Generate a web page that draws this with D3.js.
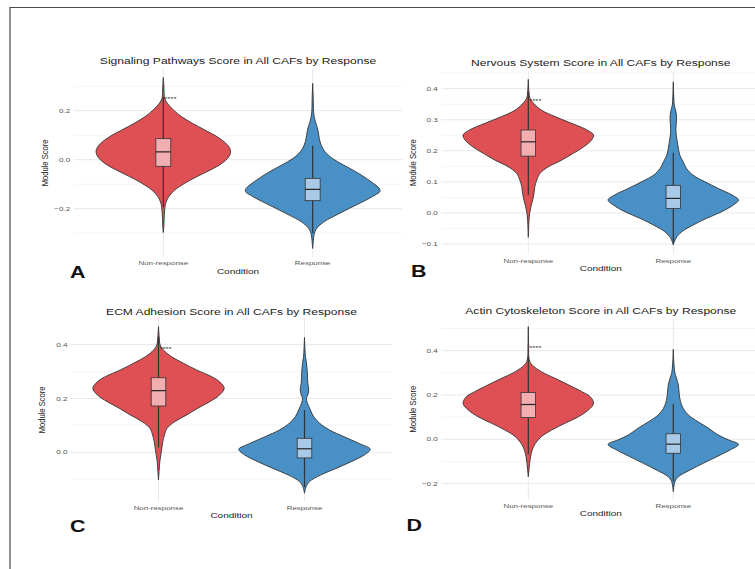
<!DOCTYPE html>
<html>
<head>
<meta charset="utf-8">
<script src="https://cdn.jsdelivr.net/npm/d3@7"></script>
<style>
  body { margin: 0; background: #fff; }
  svg { display: block; font-family: "Liberation Sans", Arial, Helvetica, sans-serif; }
</style>
</head>
<body>
<svg id="fig" width="755" height="569"></svg>
<script>
// ---- data ----
const conditions = ["Non-response", "Response"];
const panelTitles = [
  "Signaling Pathways Score in All CAFs by Response",
  "Nervous System Score in All CAFs by Response",
  "ECM Adhesion Score in All CAFs by Response",
  "Actin Cytoskeleton Score in All CAFs by Response"
];
const panelLetters = ["A", "B", "C", "D"];

// y-axis limits of each panel (score units)
const scoreLimits = [[-0.397, 0.371], [-0.133, 0.457], [-0.183, 0.498], [-0.273, 0.545]];
// major and minor breaks
const majorTicks = [
  [-0.2, 0.0, 0.2],
  [-0.1, 0.0, 0.1, 0.2, 0.3, 0.4],
  [0.0, 0.2, 0.4],
  [-0.2, 0.0, 0.2, 0.4]
];
const minorTicks = [
  [-0.3, -0.1, 0.1, 0.3],
  [-0.05, 0.05, 0.15, 0.25, 0.35, 0.45],
  [-0.1, 0.1, 0.3],
  [-0.1, 0.1, 0.3, 0.5]
];

// violin density profiles: [score, relative density]
const violinA_NR = [[0.336,0],[0.30,0.008],[0.27,0.012],[0.25,0.02],[0.23,0.06],[0.203,0.15],[0.176,0.27],[0.149,0.43],[0.121,0.62],[0.094,0.8],[0.067,0.93],[0.046,0.99],[0.030,1.0],[0.010,0.97],[-0.015,0.87],[-0.042,0.7],[-0.069,0.5],[-0.096,0.32],[-0.124,0.17],[-0.151,0.08],[-0.178,0.035],[-0.205,0.02],[-0.24,0.012],[-0.27,0.008],[-0.297,0]];
const violinA_R = [[0.312,0],[0.25,0.008],[0.19,0.015],[0.155,0.04],[0.13,0.07],[0.10,0.09],[0.073,0.11],[0.046,0.15],[0.019,0.23],[-0.008,0.37],[-0.035,0.55],[-0.062,0.72],[-0.090,0.87],[-0.117,0.99],[-0.13,1.0],[-0.144,0.93],[-0.171,0.75],[-0.198,0.55],[-0.226,0.35],[-0.253,0.17],[-0.280,0.06],[-0.307,0.02],[-0.33,0.01],[-0.362,0]];
const violinB_NR = [[0.43,0],[0.39,0.01],[0.369,0.025],[0.353,0.08],[0.331,0.2],[0.310,0.41],[0.288,0.67],[0.267,0.9],[0.251,1.0],[0.235,0.97],[0.213,0.85],[0.192,0.69],[0.170,0.51],[0.149,0.31],[0.128,0.18],[0.106,0.13],[0.085,0.10],[0.063,0.087],[0.042,0.067],[0.020,0.04],[-0.001,0.02],[-0.023,0.01],[-0.05,0.005],[-0.078,0]];
const violinB_R = [[0.422,0],[0.37,0.008],[0.347,0.015],[0.326,0.04],[0.304,0.05],[0.272,0.04],[0.251,0.045],[0.229,0.06],[0.208,0.077],[0.186,0.1],[0.165,0.15],[0.144,0.2],[0.122,0.3],[0.101,0.48],[0.079,0.69],[0.058,0.9],[0.042,1.0],[0.026,0.92],[0.004,0.74],[-0.017,0.51],[-0.039,0.3],[-0.060,0.13],[-0.081,0.04],[-0.103,0]];
const violinC_NR = [[0.467,0],[0.43,0.01],[0.399,0.025],[0.380,0.075],[0.355,0.2],[0.331,0.38],[0.306,0.58],[0.281,0.81],[0.262,0.93],[0.238,1.0],[0.213,0.93],[0.188,0.78],[0.164,0.6],[0.139,0.43],[0.114,0.25],[0.089,0.13],[0.064,0.09],[0.039,0.065],[0.015,0.05],[-0.010,0.035],[-0.035,0.02],[-0.066,0.01],[-0.103,0]];
const violinC_R = [[0.427,0],[0.38,0.008],[0.355,0.015],[0.331,0.03],[0.306,0.04],[0.281,0.045],[0.257,0.05],[0.232,0.065],[0.213,0.05],[0.201,0.03],[0.182,0.045],[0.157,0.09],[0.132,0.14],[0.108,0.23],[0.083,0.38],[0.058,0.6],[0.033,0.83],[0.011,1.0],[-0.010,0.91],[-0.035,0.71],[-0.060,0.48],[-0.084,0.25],[-0.109,0.075],[-0.128,0.025],[-0.152,0]];
const violinD_NR = [[0.508,0],[0.42,0.005],[0.358,0.015],[0.335,0.06],[0.305,0.2],[0.275,0.41],[0.245,0.62],[0.215,0.82],[0.192,0.95],[0.162,1.0],[0.132,0.92],[0.102,0.77],[0.072,0.56],[0.042,0.36],[0.012,0.2],[-0.018,0.11],[-0.048,0.06],[-0.078,0.035],[-0.108,0.02],[-0.138,0.01],[-0.169,0]];
const violinD_R = [[0.406,0],[0.34,0.01],[0.298,0.025],[0.275,0.05],[0.245,0.077],[0.207,0.09],[0.170,0.11],[0.140,0.15],[0.110,0.23],[0.079,0.38],[0.050,0.54],[0.019,0.69],[-0.003,0.85],[-0.023,1.0],[-0.048,0.87],[-0.078,0.67],[-0.108,0.46],[-0.138,0.26],[-0.169,0.077],[-0.191,0.025],[-0.236,0]];
const violins = [
  [violinA_NR, violinA_R],
  [violinB_NR, violinB_R],
  [violinC_NR, violinC_R],
  [violinD_NR, violinD_R]
];

// box summaries: [lower whisker, q1, median, q3, upper whisker]
const boxA = [[-0.195, -0.027, 0.032, 0.086, 0.255], [-0.30, -0.167, -0.121, -0.076, 0.057]];
const boxB = [[0.058, 0.183, 0.229, 0.267, 0.39], [-0.095, 0.015, 0.047, 0.089, 0.194]];
const boxC = [[0.018, 0.172, 0.229, 0.277, 0.43], [-0.13, -0.021, 0.013, 0.052, 0.157]];
const boxD = [[-0.068, 0.098, 0.157, 0.211, 0.375], [-0.19, -0.063, -0.022, 0.025, 0.159]];
const boxes = [boxA, boxB, boxC, boxD];

// significance label and its height (score units)
const sigLabel = "****";
const sigScore = [0.254, 0.365, 0.391, 0.421];

// ---- layout ----
const panels = [
  { left: 73.7, right: 402.3, top: 68.8, bottom: 257.0, titleY: 64, letterX: 70, letterY: 277.5 },
  { left: 441.3, right: 760.3, top: 70.9, bottom: 254.4, titleY: 66, letterX: 411, letterY: 276.8 },
  { left: 70.9, right: 392.1, top: 318.3, bottom: 501.5, titleY: 314.5, letterX: 70, letterY: 532.4 },
  { left: 441.3, right: 760.3, top: 318.5, bottom: 499.8, titleY: 314, letterX: 406.5, letterY: 530.8 }
];
const fills = ["#DE5053", "#4890C6"];
const boxFills = ["#F2AEB1", "#A9CAE6"];
const outline = "#333333";
const stretch = 1.3;   // horizontal text widening

const svg = d3.select("#fig");
svg.append("rect").attr("width", 755).attr("height", 569).attr("fill", "#fff");

// figure frame (top and left edges)
svg.append("path")
  .attr("d", "M10,569 V7.5 H755")
  .attr("fill", "none").attr("stroke", "#4a4a4a").attr("stroke-width", 1.2);

function place(sel, x, y, rot) {
  return sel.attr("transform", `translate(${x},${y}) scale(${stretch},1)` + (rot ? ` rotate(${rot})` : ""));
}

const fmt = d3.format(".1f");

panels.forEach((p, i) => {
  const g = svg.append("g");
  const x = d3.scalePoint().domain(conditions).range([p.left, p.right]).padding(0.6);
  const y = d3.scaleLinear().domain(scoreLimits[i]).range([p.bottom, p.top]);
  const step = x.step();
  const cx = (p.left + p.right) / 2;

  // grid
  g.selectAll(".minor").data(minorTicks[i]).join("line")
    .attr("x1", p.left).attr("x2", p.right)
    .attr("y1", d => y(d)).attr("y2", d => y(d))
    .attr("stroke", "#f2f2f2").attr("stroke-width", 0.7);
  g.selectAll(".major").data(majorTicks[i]).join("line")
    .attr("x1", p.left).attr("x2", p.right)
    .attr("y1", d => y(d)).attr("y2", d => y(d))
    .attr("stroke", "#e8e8e8").attr("stroke-width", 1);
  g.selectAll(".vgrid").data(conditions).join("line")
    .attr("x1", d => x(d)).attr("x2", d => x(d))
    .attr("y1", p.top).attr("y2", p.bottom)
    .attr("stroke", "#e8e8e8").attr("stroke-width", 1);

  // y tick labels
  majorTicks[i].forEach(t => {
    place(g.append("text"), p.left - 3.5, y(t) + 2.2)
      .attr("text-anchor", "end").attr("font-size", 6.2).attr("fill", "#555")
      .text(fmt(t));
  });
  // x tick labels
  conditions.forEach(c => {
    place(g.append("text"), x(c), p.bottom + 8.2)
      .attr("text-anchor", "middle").attr("font-size", 6.1).attr("fill", "#555")
      .text(c);
  });

  // violins
  const hw = d3.scaleLinear().domain([0, 1]).range([0, 0.45 * step]);
  conditions.forEach((c, k) => {
    const xc = x(c);
    const area = d3.area()
      .curve(d3.curveCatmullRom.alpha(0.5))
      .y(d => y(d[0]))
      .x0(d => xc - hw(d[1]))
      .x1(d => xc + hw(d[1]));
    g.append("path").datum(violins[i][k])
      .attr("d", area)
      .attr("fill", fills[k]).attr("stroke", outline).attr("stroke-width", 0.9)
      .attr("stroke-linejoin", "round");
  });

  // box plots
  const bw = 0.1 * step;
  conditions.forEach((c, k) => {
    const [lo, q1, med, q3, hi] = boxes[i][k];
    const xc = x(c);
    g.append("line").attr("x1", xc).attr("x2", xc).attr("y1", y(lo)).attr("y2", y(hi))
      .attr("stroke", outline).attr("stroke-width", 1.2);
    g.append("rect")
      .attr("x", xc - bw / 2).attr("width", bw)
      .attr("y", y(q3)).attr("height", y(q1) - y(q3))
      .attr("fill", boxFills[k]).attr("stroke", outline).attr("stroke-width", 0.8);
    g.append("line").attr("x1", xc - bw / 2).attr("x2", xc + bw / 2)
      .attr("y1", y(med)).attr("y2", y(med))
      .attr("stroke", "#222").attr("stroke-width", 1.2);
  });

  // significance
  place(g.append("text"), x(conditions[0]) + 1, y(sigScore[i]) + 3.6)
    .attr("font-size", 6).attr("fill", "#333").text(sigLabel);

  // titles
  place(g.append("text"), cx, p.titleY)
    .attr("text-anchor", "middle").attr("font-size", 9.3).attr("fill", "#222")
    .text(panelTitles[i]);
  place(g.append("text"), cx, p.bottom + 16.5)
    .attr("text-anchor", "middle").attr("font-size", 7.7).attr("fill", "#222")
    .text("Condition");
  place(g.append("text"), p.left - 25.5, (p.top + p.bottom) / 2, -90)
    .attr("text-anchor", "middle").attr("font-size", 7.6).attr("fill", "#222")
    .text("Module Score");

  // panel letter
  place(g.append("text"), p.letterX, p.letterY)
    .attr("font-size", 16.5).attr("font-weight", "bold").attr("fill", "#111")
    .text(panelLetters[i]);
});
</script>
</body>
</html>
